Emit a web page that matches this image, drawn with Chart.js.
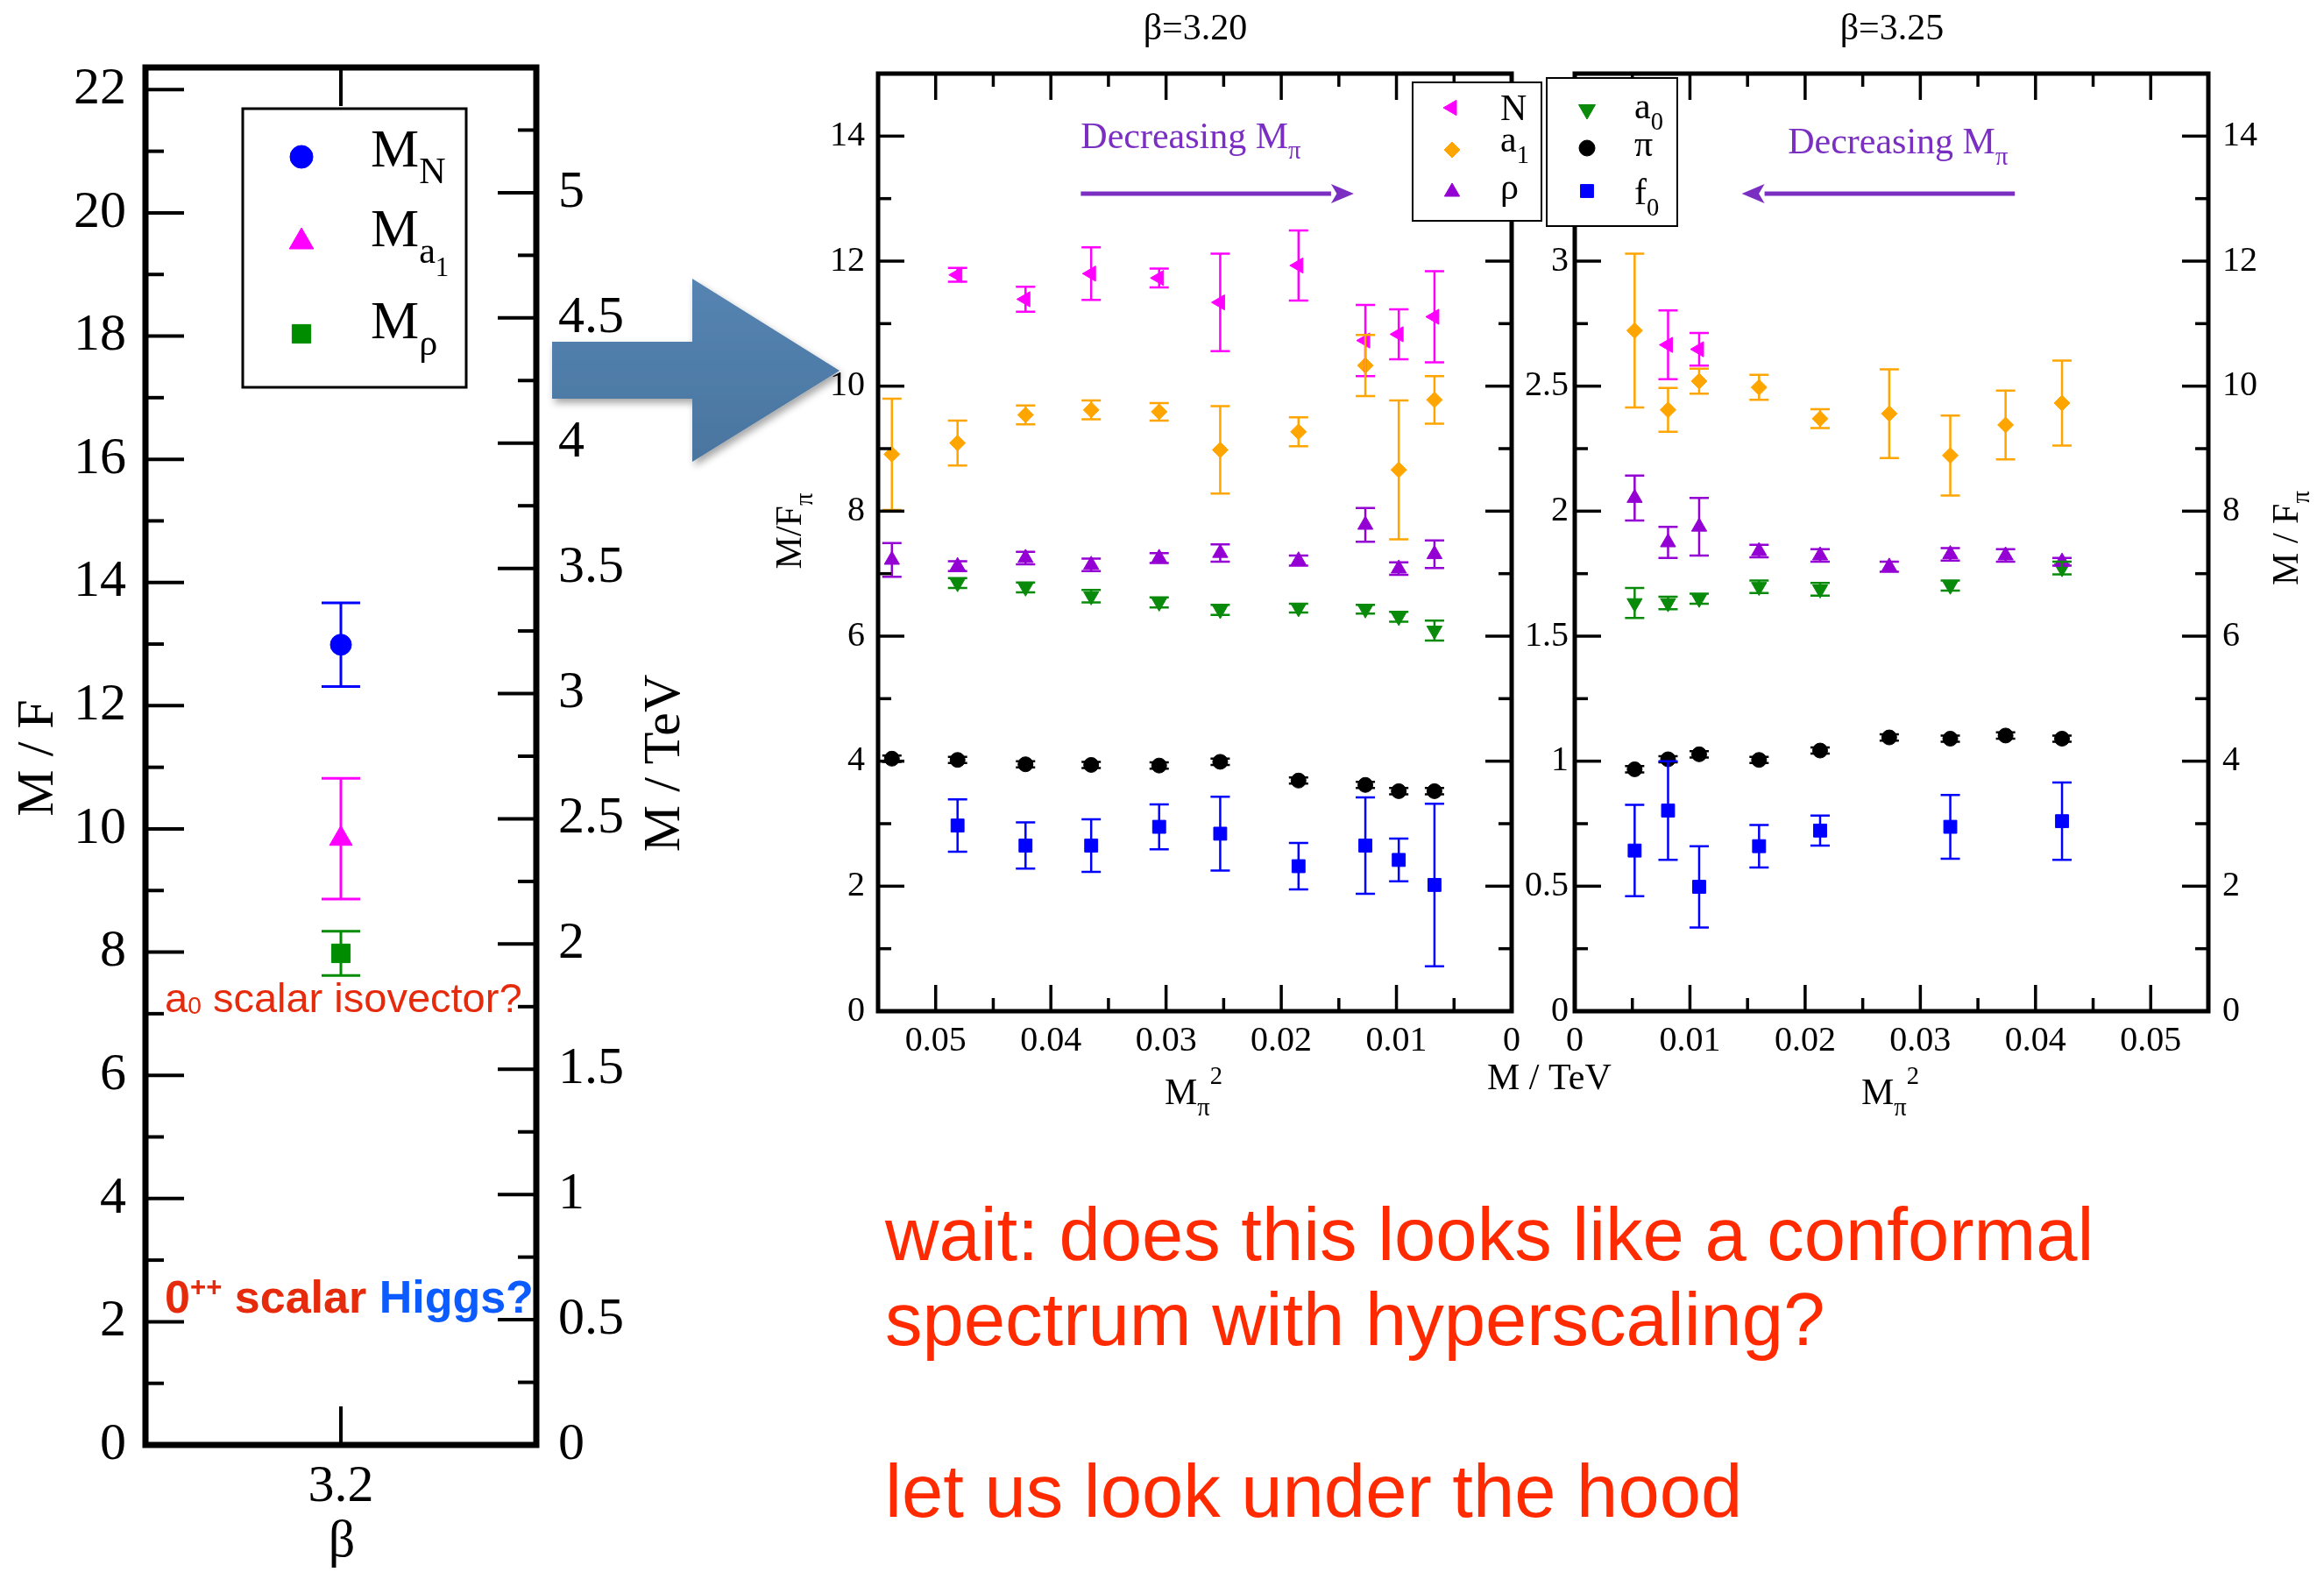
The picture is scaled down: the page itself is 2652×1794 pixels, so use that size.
<!DOCTYPE html>
<html>
<head>
<meta charset="utf-8">
<script src="https://cdn.jsdelivr.net/npm/chart.js@4.4.1/dist/chart.umd.min.js"></script>
<style>
  body { margin: 0; background: #fff; }
  #page { position: relative; width: 2652px; height: 1794px; overflow: hidden; background: #fff; }
  canvas { position: absolute; }
  .txt { position: absolute; white-space: nowrap; line-height: 1; font-family: "Liberation Sans", Arial, sans-serif; }
  .big { font-size: 85px; color: #ff2a00; }
</style>
</head>
<body>
<div id="page">
  <canvas id="cA" width="880" height="1794" style="left:0;top:0"></canvas>
  <div class="txt" style="left:188px;top:1115px;font-size:47px;color:#e62a0c">a<span style="font-size:0.6em;position:relative;top:2px">0</span> scalar isovector?</div>
  <div class="txt" style="left:188px;top:1454px;font-size:52px;font-weight:bold;color:#e62a0c">0<span style="font-size:0.6em;position:relative;top:-0.6em">++</span> scalar <span style="color:#0b5bff">Higgs?</span></div>
  <svg style="position:absolute;left:0;top:0" width="1000" height="600">
    <defs>
      <linearGradient id="ag" x1="0" y1="0" x2="0" y2="1">
        <stop offset="0" stop-color="#5584b2"/>
        <stop offset="1" stop-color="#4a759f"/>
      </linearGradient>
      <filter id="sh" x="-10%" y="-10%" width="130%" height="130%">
        <feDropShadow dx="3" dy="5" stdDeviation="4" flood-color="#000" flood-opacity="0.35"/>
      </filter>
    </defs>
    <polygon points="630,390 790,390 790,318 958,423 790,527 790,455 630,455" fill="url(#ag)" filter="url(#sh)"/>
  </svg>
  <canvas id="cB" width="900" height="1300" style="left:880px;top:0"></canvas>
  <canvas id="cC" width="962" height="1300" style="left:1690px;top:0"></canvas>
  <div class="txt big" style="left:1010px;top:1366px">wait: does this looks like a conformal</div>
  <div class="txt big" style="left:1010px;top:1463px">spectrum with hyperscaling?</div>
  <div class="txt big" style="left:1010px;top:1659px">let us look under the hood</div>
</div>
<script>
// beta = 3.20 ensembles: x = Mpi^2, y = M/Fpi
const mpi2_320 = [0.0538, 0.0481, 0.0422, 0.0365, 0.0306, 0.0253, 0.0185, 0.0127, 0.0098, 0.0067];
const N_320     = [null, 11.78, 11.39, 11.80, 11.73, 11.34, 11.93, 10.73, 10.83, 11.11];
const N_320_e   = [null, 0.11, 0.20, 0.42, 0.15, 0.78, 0.56, 0.57, 0.40, 0.73];
const a1_320    = [8.91, 9.09, 9.54, 9.62, 9.59, 8.98, 9.27, 10.33, 8.66, 9.78];
const a1_320_e  = [0.89, 0.36, 0.15, 0.15, 0.14, 0.70, 0.23, 0.49, 1.11, 0.38];
const rho_320   = [7.22, 7.12, 7.25, 7.14, 7.25, 7.33, 7.21, 7.78, 7.08, 7.31];
const rho_320_e = [0.27, 0.08, 0.10, 0.10, 0.08, 0.14, 0.08, 0.27, 0.10, 0.22];
const a0_320    = [null, 6.85, 6.78, 6.64, 6.54, 6.42, 6.45, 6.43, 6.31, 6.09];
const a0_320_e  = [null, 0.08, 0.08, 0.10, 0.08, 0.08, 0.07, 0.07, 0.08, 0.16];
const pi_320    = [4.04, 4.02, 3.95, 3.94, 3.93, 3.99, 3.69, 3.62, 3.52, 3.52];
const pi_320_e  = [0.05, 0.05, 0.05, 0.05, 0.05, 0.05, 0.05, 0.05, 0.05, 0.05];
const f0_320    = [null, 2.97, 2.65, 2.65, 2.95, 2.84, 2.32, 2.65, 2.42, 2.02];
const f0_320_e  = [null, 0.42, 0.37, 0.42, 0.36, 0.59, 0.37, 0.77, 0.34, 1.30];

// beta = 3.25 ensembles
const mpi2_325 = [0.0052, 0.0081, 0.0108, 0.0160, 0.0213, 0.0273, 0.0326, 0.0374, 0.0423];
const N_325     = [null, 10.66, 10.59, null, null, null, null, null, null];
const N_325_e   = [null, 0.55, 0.26, null, null, null, null, null, null];
const a1_325    = [10.89, 9.62, 10.08, 9.98, 9.48, 9.56, 8.89, 9.38, 9.73];
const a1_325_e  = [1.23, 0.35, 0.20, 0.20, 0.15, 0.71, 0.64, 0.55, 0.68];
const rho_325   = [8.21, 7.50, 7.75, 7.36, 7.29, 7.11, 7.31, 7.29, 7.19];
const rho_325_e = [0.36, 0.25, 0.46, 0.10, 0.10, 0.08, 0.10, 0.10, 0.06];
const a0_325    = [6.53, 6.53, 6.60, 6.79, 6.75, null, 6.81, null, 7.09];
const a0_325_e  = [0.24, 0.10, 0.08, 0.10, 0.10, null, 0.08, null, 0.10];
const pi_325    = [3.87, 4.03, 4.11, 4.02, 4.17, 4.38, 4.36, 4.41, 4.36];
const pi_325_e  = [0.05, 0.05, 0.05, 0.05, 0.05, 0.05, 0.05, 0.05, 0.05];
const f0_325    = [2.57, 3.21, 1.99, 2.64, 2.89, null, 2.95, null, 3.04];
const f0_325_e  = [0.73, 0.79, 0.65, 0.34, 0.24, null, 0.51, null, 0.62];

// left panel, beta = 3.2
const beta   = [3.2];
const MN     = [12.99], MN_e   = [0.68];
const Ma1    = [9.84],  Ma1_e  = [0.98];
const Mrho   = [7.98],  Mrho_e = [0.36];

const SERIF = '"Liberation Serif", "Times New Roman", serif';
const PURPLE = '#7a2ec2';

function series(xs, ys, es) {
  const data = [], err = [];
  xs.forEach((x, i) => {
    if (ys[i] != null) { data.push({ x, y: ys[i] }); err.push(es[i]); }
  });
  return { data, err };
}

function ds(xs, ys, es, color, style, r, rot) {
  const s = series(xs, ys, es);
  return {
    data: s.data, err: s.err, yAxisID: 'y',
    pointStyle: style, pointRadius: r, pointRotation: rot || 0,
    backgroundColor: color, borderColor: color, pointBorderWidth: 1
  };
}

// text with sub/superscripts: level 0 normal, 1 sub, 2 sub-sub, -1 sup
function fsz(size, lvl) { return lvl === 0 ? size : lvl === 2 ? size * 0.5 : size * 0.68; }
function dy(size, lvl) { return lvl === 1 ? size * 0.3 : lvl === 2 ? size * 0.55 : lvl === -1 ? -size * 0.55 : 0; }
function richWidth(ctx, parts, size) {
  let w = 0;
  parts.forEach(([t, l]) => { ctx.font = fsz(size, l) + 'px ' + SERIF; w += ctx.measureText(t).width; });
  return w;
}
function drawRich(ctx, parts, x, y, size, color, align, rot) {
  ctx.save();
  ctx.translate(x, y);
  if (rot) ctx.rotate(rot * Math.PI / 180);
  ctx.fillStyle = color;
  ctx.textAlign = 'left';
  ctx.textBaseline = 'alphabetic';
  let cx = align === 'center' ? -richWidth(ctx, parts, size) / 2 : 0;
  parts.forEach(([t, l]) => {
    ctx.font = fsz(size, l) + 'px ' + SERIF;
    ctx.fillText(t, cx, dy(size, l));
    cx += ctx.measureText(t).width;
  });
  ctx.restore();
}

function decor(o) {
  return {
    id: 'decor',
    afterDatasetsDraw(chart) {
      const ctx = chart.ctx;
      chart.data.datasets.forEach((d, di) => {
        const meta = chart.getDatasetMeta(di);
        const ys = chart.scales[meta.yAxisID];
        ctx.save();
        ctx.strokeStyle = d.borderColor;
        ctx.lineWidth = o.errW;
        d.data.forEach((p, i) => {
          const e = d.err[i];
          if (!e) return;
          const x = meta.data[i].x;
          const y1 = ys.getPixelForValue(p.y - e), y2 = ys.getPixelForValue(p.y + e);
          ctx.beginPath();
          ctx.moveTo(x, y1); ctx.lineTo(x, y2);
          ctx.moveTo(x - o.cap, y1); ctx.lineTo(x + o.cap, y1);
          ctx.moveTo(x - o.cap, y2); ctx.lineTo(x + o.cap, y2);
          ctx.stroke();
        });
        ctx.restore();
      });
    },
    afterDraw(chart) {
      const ctx = chart.ctx, a = chart.chartArea;
      ctx.save();
      ctx.strokeStyle = '#000';
      ctx.lineWidth = o.tickW;
      Object.values(chart.scales).forEach(s => {
        const every = s.options.majorEvery;
        s.ticks.forEach(t => {
          const q = t.value / every;
          const len = Math.abs(q - Math.round(q)) < 1e-6 ? o.major : o.minor;
          const p = s.getPixelForValue(t.value);
          ctx.beginPath();
          if (s.isHorizontal()) {
            ctx.moveTo(p, a.bottom); ctx.lineTo(p, a.bottom - len);
            ctx.moveTo(p, a.top); ctx.lineTo(p, a.top + len);
          } else if (s.position === 'left') {
            ctx.moveTo(a.left, p); ctx.lineTo(a.left + len, p);
          } else {
            ctx.moveTo(a.right, p); ctx.lineTo(a.right - len, p);
          }
          ctx.stroke();
        });
      });
      ctx.lineWidth = o.frame;
      ctx.strokeRect(a.left, a.top, a.right - a.left, a.bottom - a.top);
      ctx.restore();

      (o.texts || []).forEach(t => drawRich(ctx, t.parts, t.x, t.y, t.size, '#000', t.align, t.rot));

      (o.arrows || []).forEach(ar => {
        const xs = chart.scales.x, ys = chart.scales.y;
        const p1 = xs.getPixelForValue(ar.x1), p2 = xs.getPixelForValue(ar.x2), py = ys.getPixelForValue(ar.y);
        const dir = Math.sign(p2 - p1), head = 26, hh = 11;
        ctx.save();
        ctx.strokeStyle = PURPLE; ctx.fillStyle = PURPLE; ctx.lineWidth = 5;
        ctx.beginPath(); ctx.moveTo(p1, py); ctx.lineTo(p2 - dir * head, py); ctx.stroke();
        ctx.beginPath(); ctx.moveTo(p2, py);
        ctx.lineTo(p2 - dir * head, py - hh); ctx.lineTo(p2 - dir * head * 0.75, py);
        ctx.lineTo(p2 - dir * head, py + hh); ctx.closePath(); ctx.fill();
        ctx.restore();
        drawRich(ctx, [['Decreasing M', 0], ['\u03c0', 1]], xs.getPixelForValue(ar.tx), ys.getPixelForValue(ar.ty), 42, PURPLE, 'left');
      });

      if (o.legend) {
        const L = o.legend;
        ctx.save();
        ctx.fillStyle = '#fff'; ctx.strokeStyle = '#000'; ctx.lineWidth = L.lw;
        ctx.fillRect(L.box[0], L.box[1], L.box[2] - L.box[0], L.box[3] - L.box[1]);
        ctx.strokeRect(L.box[0], L.box[1], L.box[2] - L.box[0], L.box[3] - L.box[1]);
        L.items.forEach(it => {
          const d = chart.data.datasets[it.ds];
          ctx.fillStyle = d.backgroundColor; ctx.strokeStyle = d.borderColor; ctx.lineWidth = 1;
          Chart.helpers.drawPoint(ctx, { pointStyle: d.pointStyle, radius: it.r, rotation: d.pointRotation, borderWidth: 1 }, L.mx, it.my);
          drawRich(ctx, it.parts, L.tx, it.ty, L.size, '#000', 'left');
        });
        ctx.restore();
      }
    }
  };
}

function axis(pos, min, max, step, majorEvery, fontSize, size, pad, label, extra) {
  return Object.assign({
    type: 'linear', position: pos, min, max, majorEvery,
    grid: { display: false, drawTicks: false },
    border: { display: false },
    ticks: {
      stepSize: step, autoSkip: false, maxRotation: 0, minRotation: 0, includeBounds: false,
      padding: pad, color: '#000', font: { family: SERIF, size: fontSize }, callback: label
    },
    afterFit: s => { if (pos === 'bottom') s.height = size; else s.width = size; }
  }, extra || {});
}

const evenInt = v => (Math.round(v) % 2 === 0 ? String(Math.round(v)) : '');
const hundredth = v => { const k = Math.round(v * 1000); return k % 10 === 0 ? String(k / 1000) : ''; };
const halfUpTo = lim => v => { const k = Math.round(v * 4); return (k % 2 === 0 && v <= lim + 1e-6) ? String(k / 4) : ''; };

function makeChart(id, datasets, scales, pad, o) {
  return new Chart(document.getElementById(id), {
    type: 'scatter',
    data: { datasets },
    options: {
      responsive: false, animation: false, events: [],
      layout: { padding: pad },
      plugins: { legend: { display: false }, tooltip: { enabled: false }, title: { display: false } },
      scales
    },
    plugins: [decor(o)]
  });
}

// ---- left panel ----
makeChart('cA', [
  ds(beta, MN, MN_e, '#0000ff', 'circle', 12),
  ds(beta, Ma1, Ma1_e, '#ff00ff', 'triangle', 15),
  ds(beta, Mrho, Mrho_e, '#008c00', 'rect', 15)
], {
  x: axis('bottom', 3.1, 3.3, 0.1, 0.1, 60, 145, 12, v => v.toFixed(1), {
    afterBuildTicks: s => { s.ticks = [{ value: beta[0] }]; }
  }),
  y: axis('left', 0, 22.36, 1, 2, 60, 166, 22, evenInt),
  yT: axis('right', 0, 5.5, 0.25, 0.5, 60, 268, 25, halfUpTo(5))
}, { top: 77, left: 0, right: 0, bottom: 0 }, {
  errW: 3, cap: 22, tickW: 4, major: 44, minor: 21, frame: 7,
  texts: [
    { parts: [['M / F', 0]], x: 60, y: 865, size: 60, align: 'center', rot: -90 },
    { parts: [['M / TeV', 0]], x: 775, y: 871, size: 60, align: 'center', rot: -90 },
    { parts: [['\u03b2', 0]], x: 390, y: 1776, size: 60, align: 'center' }
  ],
  legend: {
    box: [277, 124, 532, 442], lw: 3, mx: 344, tx: 423, size: 62,
    items: [
      { ds: 0, r: 13, my: 179, ty: 190, parts: [['M', 0], ['N', 1]] },
      { ds: 1, r: 16, my: 276, ty: 281, parts: [['M', 0], ['a', 1], ['1', 2]] },
      { ds: 2, r: 15, my: 381, ty: 386, parts: [['M', 0], ['\u03c1', 1]] }
    ]
  }
});

// ---- beta = 3.20 ----
makeChart('cB', [
  ds(mpi2_320, N_320, N_320_e, '#ff00ff', 'triangle', 10, -90),
  ds(mpi2_320, a1_320, a1_320_e, '#ffa500', 'rectRot', 9),
  ds(mpi2_320, rho_320, rho_320_e, '#9400d3', 'triangle', 10),
  ds(mpi2_320, a0_320, a0_320_e, '#0a8a0a', 'triangle', 10, 180),
  ds(mpi2_320, pi_320, pi_320_e, '#000000', 'circle', 8.5),
  ds(mpi2_320, f0_320, f0_320_e, '#0000ff', 'rect', 10.5)
], {
  x: axis('bottom', 0, 0.055, 0.005, 0.01, 40, 146, 10, hundredth, { reverse: true }),
  y: axis('left', 0, 15, 1, 2, 40, 122, 15, evenInt),
  y2: axis('right', 0, 15, 1, 2, 40, 55, 0, evenInt, { ticks: { display: false, stepSize: 1, includeBounds: false } })
}, { top: 84, left: 0, right: 0, bottom: 0 }, {
  errW: 2.5, cap: 11, tickW: 3.5, major: 30, minor: 15, frame: 5,
  texts: [
    { parts: [['\u03b2=3.20', 0]], x: 484, y: 45, size: 42, align: 'center' },
    { parts: [['M/F', 0], ['\u03c0', 1]], x: 34, y: 606, size: 42, align: 'center', rot: -90 },
    { parts: [['M', 0], ['\u03c0', 1], ['2', -1]], x: 449, y: 1260, size: 42, align: 'left' }
  ],
  arrows: [{ x1: 0.0374, x2: 0.0137, y: 13.08, tx: 0.0374, ty: 13.81 }],
  legend: {
    box: [732, 94, 879, 252], lw: 2, mx: 777, tx: 832, size: 42,
    items: [
      { ds: 0, r: 10, my: 123, ty: 137, parts: [['N', 0]] },
      { ds: 1, r: 9, my: 171, ty: 173, parts: [['a', 0], ['1', 1]] },
      { ds: 2, r: 10, my: 219, ty: 227, parts: [['\u03c1', 0]] }
    ]
  }
});

// ---- beta = 3.25 ----
makeChart('cC', [
  ds(mpi2_325, N_325, N_325_e, '#ff00ff', 'triangle', 10, -90),
  ds(mpi2_325, a1_325, a1_325_e, '#ffa500', 'rectRot', 9),
  ds(mpi2_325, rho_325, rho_325_e, '#9400d3', 'triangle', 10),
  ds(mpi2_325, a0_325, a0_325_e, '#0a8a0a', 'triangle', 10, 180),
  ds(mpi2_325, pi_325, pi_325_e, '#000000', 'circle', 8.5),
  ds(mpi2_325, f0_325, f0_325_e, '#0000ff', 'rect', 10.5)
], {
  x: axis('bottom', 0, 0.055, 0.005, 0.01, 40, 146, 10, hundredth),
  yT: axis('left', 0, 3.75, 0.25, 0.5, 40, 107, 7, halfUpTo(3)),
  y: axis('right', 0, 15, 1, 2, 40, 132, 16, evenInt)
}, { top: 84, left: 0, right: 0, bottom: 0 }, {
  errW: 2.5, cap: 11, tickW: 3.5, major: 30, minor: 15, frame: 5,
  texts: [
    { parts: [['\u03b2=3.25', 0]], x: 469, y: 45, size: 42, align: 'center' },
    { parts: [['M / F', 0], ['\u03c0', 1]], x: 932, y: 614, size: 42, align: 'center', rot: -90 },
    { parts: [['M', 0], ['\u03c0', 1], ['2', -1]], x: 434, y: 1260, size: 42, align: 'left' },
    { parts: [['M / TeV', 0]], x: 7, y: 1243, size: 42, align: 'left' }
  ],
  arrows: [{ x1: 0.0382, x2: 0.0145, y: 13.08, tx: 0.0185, ty: 13.72 }],
  legend: {
    box: [75, 89, 224, 258], lw: 2, mx: 121, tx: 175, size: 42,
    items: [
      { ds: 3, r: 11, my: 125, ty: 135, parts: [['a', 0], ['0', 1]] },
      { ds: 4, r: 9, my: 169, ty: 178, parts: [['\u03c0', 0]] },
      { ds: 5, r: 10.5, my: 218, ty: 233, parts: [['f', 0], ['0', 1]] }
    ]
  }
});
</script>
</body>
</html>
